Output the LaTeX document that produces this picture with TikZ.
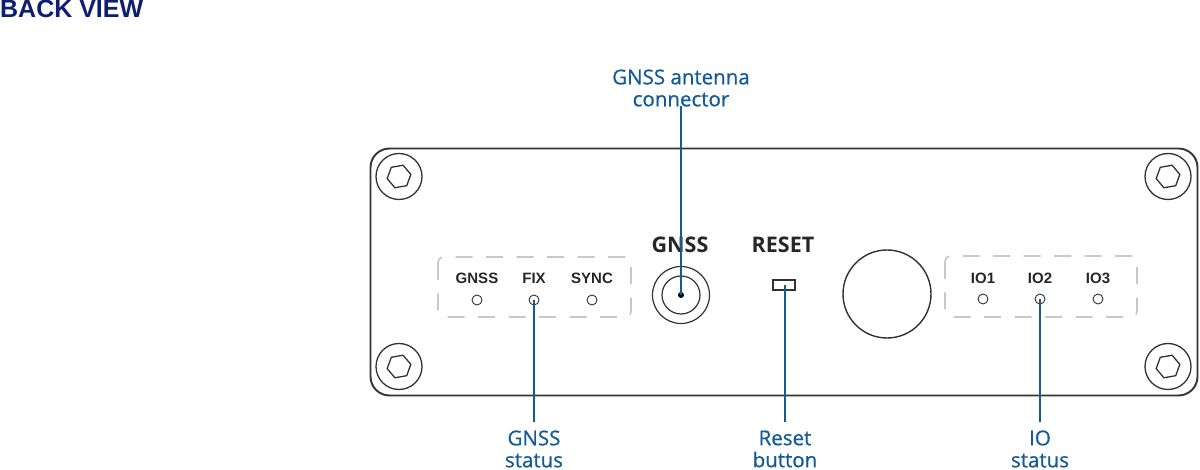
\documentclass[tikz,border=0pt]{standalone}
\usepackage{fontspec}
\setmainfont{Open Sans}
\newfontfamily\headfont{Liberation Sans}
\newfontfamily\callfont[FakeBold=0.7]{Open Sans}
\usetikzlibrary{shapes.geometric}
\definecolor{callblue}{RGB}{20,90,150}
\definecolor{headblue}{RGB}{15,30,110}
\definecolor{panelgrey}{RGB}{50,50,50}
\definecolor{dashgrey}{RGB}{200,200,200}
\tikzset{
  panel/.style={draw=panelgrey,line width=1.9bp,rounded corners=19bp},
  ledgroup/.style={draw=dashgrey,line width=1.7bp,dash pattern=on 17bp off 13.5bp,rounded corners=6bp},
  screwring/.style={circle,draw=panelgrey,line width=1.3bp,minimum size=46bp,inner sep=0pt},
  screwhex/.style={regular polygon,regular polygon sides=6,draw=panelgrey,line width=1.3bp,minimum size=24bp,inner sep=0pt,rotate=10},
  led/.style={circle,draw=panelgrey,line width=.9bp,minimum size=10bp,inner sep=0pt},
  ledname/.style={font=\headfont\fontsize{15bp}{16bp}\selectfont\bfseries,text=black!85,inner sep=0pt},
  facename/.style={font=\fontsize{21.5bp}{23bp}\selectfont\bfseries,text=black!85,inner sep=0pt},
  calllabel/.style={font=\callfont\fontsize{20.5bp}{22bp}\selectfont,text=callblue,align=center,inner sep=0pt},
  callline/.style={draw=callblue,line width=1.6bp},
}
\begin{document}
\begin{tikzpicture}[x=1bp,y=-1bp]
\useasboundingbox (0,0) rectangle (1200,470);
%% panel
\draw [panel] (370.5,148.5) rectangle (1197.5,395.5);
\draw [ledgroup] (438,257) rectangle (631,317);
\draw [ledgroup] (945,256) rectangle (1137,317);
%% screws
\node (ring_tl) at (399,176.5) [screwring] {};
\node (ring_tr) at (1168,176.5) [screwring] {};
\node (ring_bl) at (399,366.5) [screwring] {};
\node (ring_br) at (1168,366.5) [screwring] {};
\node (hex_tl) at (399,176.5) [screwhex] {};
\node (hex_tr) at (1168,176.5) [screwhex] {};
\node (hex_bl) at (399,366.5) [screwhex] {};
\node (hex_br) at (1168,366.5) [screwhex] {};
%% leds
\node (led_gnss) at (477,300) [led] {};
\node (led_fix) at (534,300) [led] {};
\node (led_sync) at (592,300) [led] {};
\node (led_io1) at (983,299) [led] {};
\node (led_io2) at (1040,299) [led] {};
\node (led_io3) at (1098,299) [led] {};
\node (name_gnss) at (477,278) [ledname] {GNSS};
\node (name_fix) at (534,278) [ledname] {FIX};
\node (name_sync) at (592,278) [ledname] {SYNC};
\node (name_io1) at (983,278) [ledname] {IO1};
\node (name_io2) at (1040,278) [ledname] {IO2};
\node (name_io3) at (1098,278) [ledname] {IO3};
%% connector, button, blank
\node (conn_outer) at (681,295) [circle,draw=panelgrey,line width=1.2bp,minimum size=57bp,inner sep=0pt] {};
\node (conn_inner) at (681,295) [circle,draw=panelgrey,line width=1.2bp,minimum size=38bp,inner sep=0pt] {};
\node (conn_pin) at (681,295) [circle,fill=black,minimum size=6bp,inner sep=0pt] {};
\node (reset_btn) at (784,285) [draw=panelgrey,line width=1.2bp,minimum width=22bp,minimum height=10bp,inner sep=0pt] {};
\node (blank_hole) at (887,294) [circle,draw=panelgrey,line width=1.4bp,minimum size=88bp,inner sep=0pt] {};
\node (face_gnss) at (680,245) [facename] {GNSS};
\node (face_reset) at (783,245) [facename] {RESET};
%% callouts
\node (head) at (0,9) [anchor=west,inner sep=0pt,text=headblue,font=\headfont\fontsize{25bp}{27bp}\selectfont\bfseries] {BACK VIEW};
\node (call_ant) at (681,88) [calllabel] {GNSS antenna\\connector};
\node (call_gnss) at (534,449) [calllabel] {GNSS\\status};
\node (call_reset) at (785,449) [calllabel] {Reset\\button};
\node (call_io) at (1040,449) [calllabel] {IO\\status};
\draw [callline] (call_ant.south -| conn_pin) ++(0,-1) -- (conn_pin.center);
\draw [callline] (call_gnss.north) ++(0,-8) -- (led_fix.center);
\draw [callline] (call_reset.north) ++(0,-8) -- (reset_btn.center -| call_reset);
\draw [callline] (call_io.north) ++(0,-8) -- (led_io2.center);
%
\end{tikzpicture}
\end{document}
